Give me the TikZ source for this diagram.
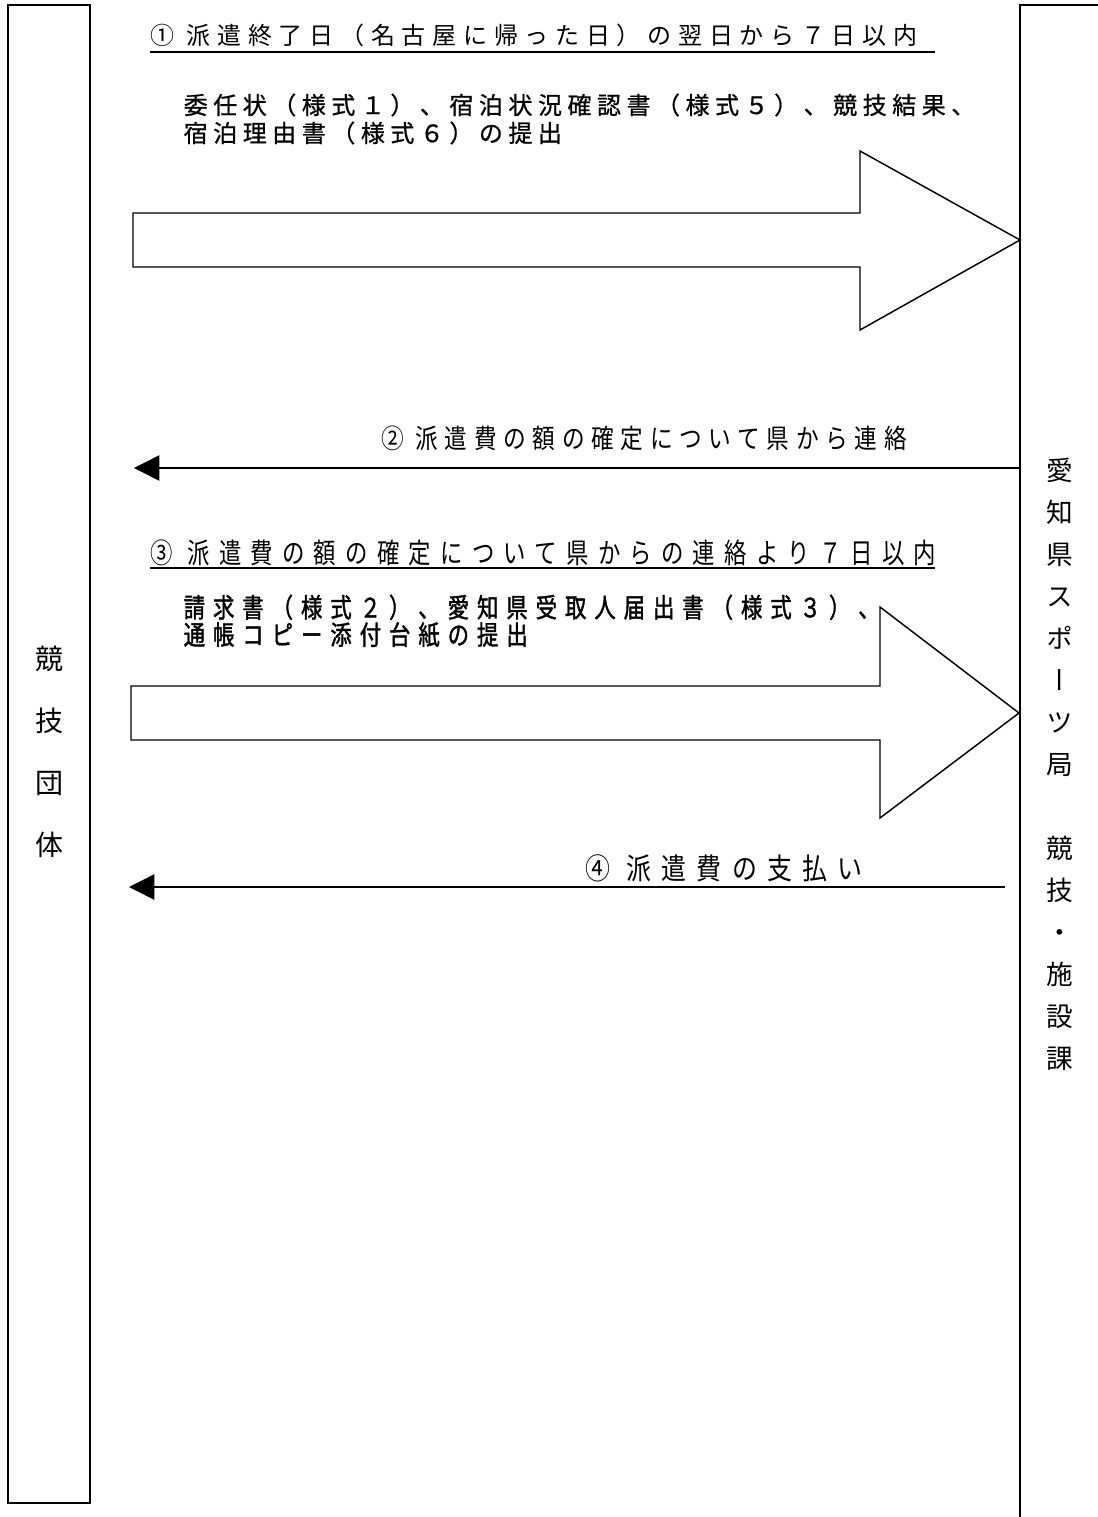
\documentclass[tikz,border=0pt]{standalone}
\usepackage{fontspec}
\setmainfont{Noto Sans CJK JP}
\newfontfamily\gothic[LetterSpace=28]{Noto Sans CJK JP}
\newfontfamily\gothicb[LetterSpace=23,FakeBold=0.8]{Noto Sans CJK JP}
\newfontfamily\gothicn[FakeStretch=0.8,LetterSpace=33]{Noto Sans CJK JP}
\newfontfamily\gothicnb[FakeStretch=0.8,LetterSpace=30,FakeBold=1.5]{Noto Sans CJK JP}
\newfontfamily\mincho[FakeStretch=0.85,LetterSpace=25]{Noto Sans CJK JP}
\newfontfamily\minchow[FakeStretch=0.85,LetterSpace=35]{Noto Sans CJK JP}
\newfontfamily\tate[RawFeature=+vert]{Noto Sans CJK JP}
\usetikzlibrary{arrows.meta}

\tikzset{every picture/.style={line width=1.1pt}}

\begin{document}
\begin{tikzpicture}[x=0.75pt,y=0.75pt,yscale=-1,xscale=1]
	%set diagram to the page size
	\useasboundingbox (0,0) rectangle (1098,1517);
	
	%Shape: Rectangle [left: 競技団体]
	\draw  (8,5) rectangle (90,1503) ;
	%Shape: Rectangle [right: 愛知県スポーツ局]
	\draw  (1110,5) -- (1020,5) -- (1020,1530) ;
	
	%Shape: Right Arrow [step 1]
	\draw  (133,213) -- (860,213) -- (860,151) -- (1020,240) -- (860,330) -- (860,267) -- (133,267) -- cycle ;
	%Shape: Right Arrow [step 3]
	\draw  (131,686) -- (880,686) -- (880,607) -- (1019,713) -- (880,818) -- (880,740) -- (131,740) -- cycle ;
	
	\coordinate (r2) at (1020,468) ;
	\coordinate (l2) at (134,468) ;
	\coordinate (r4) at (1005,887) ;
	\coordinate (l4) at (129,887) ;
	%Straight Lines [step 2]
	\draw [-{Triangle[length=19pt,width=19pt]}]  (r2) -- (l2) ;
	%Straight Lines [step 4]
	\draw [-{Triangle[length=19pt,width=19pt]}]  (r4) -- (l4) ;
	
	%underlines
	\draw  (150,52) -- (935,52) ;
	\draw  (150,568) -- (935,568) ;
	
	\draw (150,35) node [anchor=west][inner sep=0pt] (h1) {\gothic\fontsize{18pt}{22pt}\selectfont ① 派遣終了日（名古屋に帰った日）の翌日から７日以内};
	\draw (183,119) node [anchor=west][inner sep=0pt][align=left,font={\gothicb\fontsize{18pt}{21pt}\selectfont}] (d1) {委任状（様式１）、宿泊状況確認書（様式５）、競技結果、\\宿泊理由書（様式６）の提出};
	\draw (644,438) node [inner sep=0pt] (h2) {\mincho\fontsize{20pt}{24pt}\selectfont ② 派遣費の額の確定について県から連絡};
	\draw (150,553) node [anchor=west][inner sep=0pt] (h3) {\gothicn\fontsize{21pt}{24pt}\selectfont ③ 派遣費の額の確定について県からの連絡より７日以内};
	\draw (183,621) node [anchor=west][inner sep=0pt][align=left,font={\gothicnb\fontsize{20pt}{20.5pt}\selectfont}] (d3) {請求書（様式２）、愛知県受取人届出書（様式３）、\\通帳コピー添付台紙の提出};
	\draw (585,868) node [anchor=west][inner sep=0pt] (h4) {\minchow\fontsize{22pt}{24pt}\selectfont ④ 派遣費の支払い};
	
	\draw (49,752) node [inner sep=0pt][align=center,font={\tate\fontsize{21pt}{46.5pt}\selectfont}] (org) {競\\技\\団\\体};
	\draw (1060,764) node [inner sep=0pt][align=center,font={\tate\fontsize{20pt}{31.5pt}\selectfont}] (pref) {愛\\知\\県\\ス\\ポ\\ー\\ツ\\局\\\mbox{}\\競\\技\\・\\施\\設\\課};
	
\end{tikzpicture}
\end{document}
